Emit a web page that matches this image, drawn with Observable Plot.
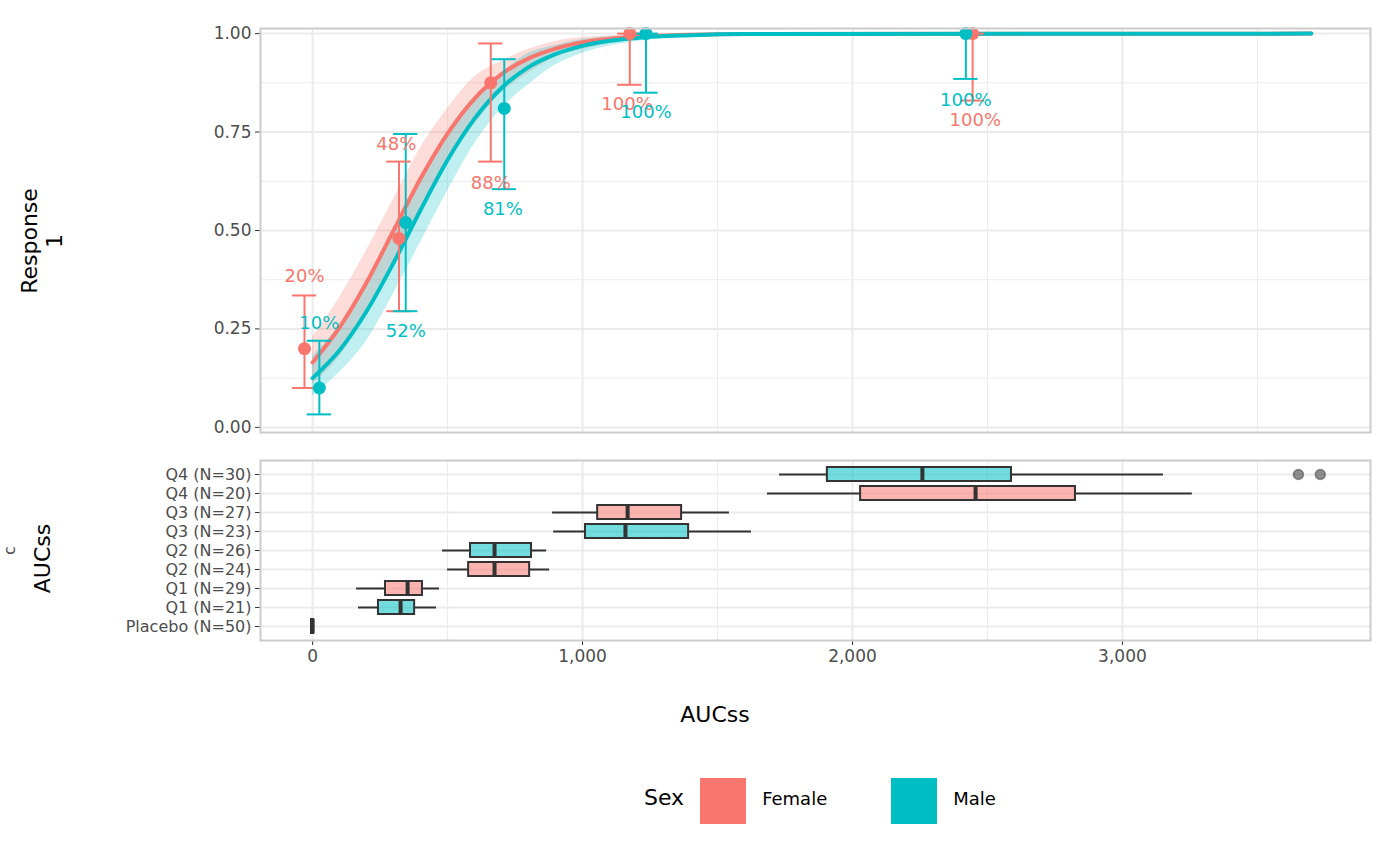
<!DOCTYPE html>
<html><head><meta charset="utf-8">
<script src="https://cdn.jsdelivr.net/npm/d3@7"></script>
<script src="https://cdn.jsdelivr.net/npm/@observablehq/plot@0.6"></script>
<style>
body{margin:0;background:#fff;font-family:"DejaVu Sans",sans-serif;}
#wrap{position:relative;width:1400px;height:865px;}
svg{display:block}
</style></head><body>
<div id="wrap"></div>
<script>
const FEM="#F8766D", MAL="#00BFC4";
// observed response points
const sexes=["Female","Female","Female","Female","Female","Male","Male","Male","Male","Male"];
const ptX=[-30,320,660,1175,2445,25,345,710,1235,2420];
const ptY=[0.20,0.48,0.875,1.0,1.0,0.10,0.52,0.81,1.0,1.0];
const ciLo=[0.10,0.295,0.675,0.87,0.83,0.033,0.295,0.605,0.85,0.885];
const ciHi=[0.335,0.675,0.975,1.0,1.0,0.22,0.745,0.935,1.0,1.0];
const labTxt=["20%","48%","88%","100%","100%","10%","52%","81%","100%","100%"];
const labX=[-30,310,660,1165,2455,25,345,705,1235,2420];
const labY=[0.385,0.72,0.62,0.82,0.78,0.265,0.245,0.555,0.80,0.83];
// fitted curves
const curveX=[0,100,200,300,400,500,600,700,800,900,1000,1200,1400,1600,3700];
const femFit=[0.165,0.254,0.368,0.5,0.632,0.746,0.835,0.897,0.937,0.962,0.978,0.992,0.997,0.999,1];
const femLo=[0.11,0.18,0.29,0.42,0.55,0.67,0.77,0.85,0.90,0.94,0.96,0.985,0.995,0.998,1];
const femHi=[0.23,0.33,0.45,0.58,0.71,0.81,0.89,0.93,0.96,0.98,0.99,0.997,0.999,1,1];
const malFit=[0.125,0.196,0.295,0.418,0.552,0.679,0.784,0.862,0.915,0.948,0.969,0.989,0.996,0.999,1];
const malLo=[0.08,0.14,0.22,0.34,0.47,0.60,0.72,0.81,0.87,0.92,0.95,0.98,0.993,0.998,1];
const malHi=[0.18,0.26,0.37,0.50,0.63,0.75,0.84,0.90,0.95,0.97,0.985,0.995,0.999,1,1];
// exposure boxplots
const boxCat=["Q4 (N=30)","Q4 (N=20)","Q3 (N=27)","Q3 (N=23)","Q2 (N=26)","Q2 (N=24)","Q1 (N=29)","Q1 (N=21)","Placebo (N=50)"];
const boxSex=["Male","Female","Female","Male","Male","Female","Female","Male","Placebo"];
const wLo=[1730,1685,889,893,481,500,163,170,0];
const q1=[1907,2030,1056,1011,585,578,270,244,-4];
const med=[2259,2456,1167,1159,674,674,352,326,0];
const q3=[2589,2826,1367,1393,811,804,407,378,4];
const wHi=[3152,3259,1544,1626,867,878,470,459,0];
const outX=[3652,3733]; const outCat=["Q4 (N=30)","Q4 (N=30)"];
const xTicks=[0,1000,2000,3000];
const xMinor=[500,1500,2500,3500];
const yTicks=[0,0.25,0.5,0.75,1];
const yMinor=[0.125,0.375,0.625,0.875];

const col=s=>s==="Female"?FEM:s==="Male"?MAL:"#333";
const pts=ptX.map((x,i)=>({x,y:ptY[i],lo:ciLo[i],hi:ciHi[i],s:sexes[i],t:labTxt[i],lx:labX[i],ly:labY[i]}));
const fits=[];
curveX.forEach((x,i)=>{fits.push({x,s:"Female",y:femFit[i],lo:femLo[i],hi:femHi[i]});fits.push({x,s:"Male",y:malFit[i],lo:malLo[i],hi:malHi[i]});});
const boxes=boxCat.map((c,i)=>({c,s:boxSex[i],wl:wLo[i],q1:q1[i],m:med[i],q3:q3[i],wh:wHi[i]}));
const XD=[-193,3919];
const ML=260, MR=30;
const grid="#ebebeb";

const topChart=Plot.plot({
  width:1400,height:440,marginLeft:ML,marginRight:MR,marginTop:28,marginBottom:8,
  style:{fontFamily:"DejaVu Sans",background:"transparent"},
  x:{domain:XD,axis:null},
  y:{domain:[-0.013,1.013],axis:null},
  marks:[
    Plot.ruleX(xMinor,{stroke:grid,strokeWidth:1}),
    Plot.ruleY(yMinor,{stroke:grid,strokeWidth:1}),
    Plot.ruleX(xTicks,{stroke:grid,strokeWidth:2}),
    Plot.ruleY(yTicks,{stroke:grid,strokeWidth:2}),
    Plot.areaY(fits,{x:"x",y1:"lo",y2:"hi",z:"s",fill:d=>col(d.s),fillOpacity:0.25,curve:"monotone-x"}),
    Plot.line(fits,{x:"x",y:"y",z:"s",stroke:d=>col(d.s),strokeWidth:4,curve:"monotone-x"}),
    Plot.ruleX(pts,{x:"x",y1:"lo",y2:"hi",stroke:d=>col(d.s),strokeWidth:2}),
    Plot.ruleY(pts,{y:"lo",x1:d=>d.x-45,x2:d=>d.x+45,stroke:d=>col(d.s),strokeWidth:2}),
    Plot.ruleY(pts,{y:"hi",x1:d=>d.x-45,x2:d=>d.x+45,stroke:d=>col(d.s),strokeWidth:2}),
    Plot.dot(pts,{x:"x",y:"y",r:6.5,fill:d=>col(d.s)}),
    Plot.text(pts,{x:"lx",y:"ly",text:"t",fill:d=>col(d.s),fontSize:18}),
    Plot.axisY(yTicks,{tickFormat:d=>d.toFixed(2),fontSize:17,color:"#4d4d4d",tickSize:5,tickPadding:4,stroke:"#333"}),
    Plot.frame({stroke:"#ccc",strokeWidth:2})
  ]
});

const botChart=Plot.plot({
  width:1400,height:300,marginLeft:ML,marginRight:MR,marginTop:20,marginBottom:100,
  style:{fontFamily:"DejaVu Sans",background:"transparent"},
  x:{domain:XD,axis:null},
  y:{type:"band",domain:boxCat,paddingInner:0.25,paddingOuter:0.35,axis:null},
  marks:[
    Plot.ruleX(xMinor,{stroke:grid,strokeWidth:1}),
    Plot.ruleX(xTicks,{stroke:grid,strokeWidth:2}),
    Plot.ruleY(boxCat,{y:d=>d,stroke:grid,strokeWidth:2}),
    Plot.ruleY(boxes,{y:"c",x1:"wl",x2:"q1",stroke:"#333",strokeWidth:2}),
    Plot.ruleY(boxes,{y:"c",x1:"q3",x2:"wh",stroke:"#333",strokeWidth:2}),
    Plot.barX(boxes,{y:"c",x1:"q1",x2:"q3",fill:d=>col(d.s),fillOpacity:0.55,stroke:"#333",strokeWidth:2}),
    Plot.tickX(boxes,{y:"c",x:"m",stroke:"#333",strokeWidth:4}),
    Plot.dot(outX.map((x,i)=>({x,c:outCat[i]})),{x:"x",y:"c",r:5,fill:"#333",fillOpacity:0.55,stroke:"#333",strokeOpacity:0.5}),
    Plot.axisY(boxCat,{fontSize:16,color:"#4d4d4d",tickSize:5,tickPadding:4,stroke:"#333"}),
    Plot.axisX(xTicks,{fontSize:17,color:"#4d4d4d",tickSize:5,tickPadding:4,stroke:"#333",label:null}),
    Plot.frame({stroke:"#ccc",strokeWidth:2})
  ]
});

const wrap=document.getElementById("wrap");
wrap.appendChild(topChart);wrap.appendChild(botChart);
const add=(html,css)=>{const d=document.createElement("div");d.innerHTML=html;d.style.cssText="position:absolute;"+css;wrap.appendChild(d);return d;};
add("Response 1","left:-18px;top:216px;width:120px;text-align:center;transform:rotate(-90deg);font-size:22px;");
add("AUCss","left:-8px;top:546px;width:100px;text-align:center;transform:rotate(-90deg);font-size:22px;");
add("AUCss","left:715px;top:702px;width:200px;text-align:center;font-size:22px;transform:translateX(-100px)");
add(`<span style="font-size:22px;margin-right:16px">Sex</span><span style="display:inline-block;width:46px;height:46px;background:${FEM};vertical-align:middle"></span><span style="font-size:18px;margin:0 64px 0 16px">Female</span><span style="display:inline-block;width:46px;height:46px;background:${MAL};vertical-align:middle"></span><span style="font-size:18px;margin-left:16px">Male</span>`,"left:644px;top:775px;white-space:nowrap;line-height:46px;");
</script></body></html>
